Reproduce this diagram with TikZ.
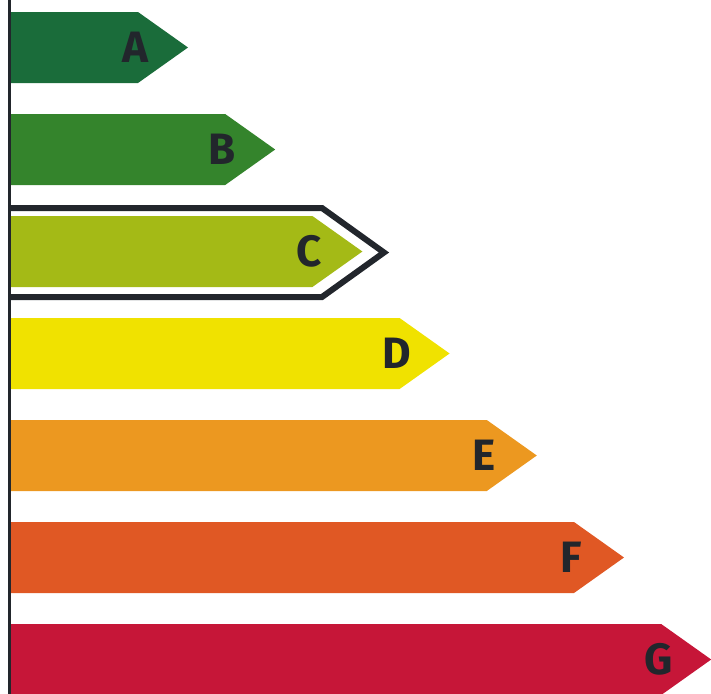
\documentclass[tikz,border=0pt]{standalone}
\usepackage{fontspec}
\setsansfont{Fira Sans}
\definecolor{clsA}{RGB}{26,108,58}
\definecolor{clsB}{RGB}{52,132,44}
\definecolor{clsC}{RGB}{164,186,22}
\definecolor{clsD}{RGB}{240,226,0}
\definecolor{clsE}{RGB}{236,152,32}
\definecolor{clsF}{RGB}{224,88,36}
\definecolor{clsG}{RGB}{198,22,56}
\definecolor{ink}{RGB}{34,38,44}

\begin{document}
\begin{tikzpicture}[x=0.02cm,y=-0.02cm,line join=miter,
  classlabel/.style={font=\sffamily\bfseries\fontsize{25}{25}\selectfont,text=ink,inner sep=0pt},
  markframe/.style={draw=ink,line width=0.12cm}]
  \useasboundingbox (0,0) rectangle (711,694);
  % rating bars
  \foreach \c/\col [count=\i from 0] in {A/clsA,B/clsB,C/clsC,D/clsD,E/clsE,F/clsF,G/clsG} {
    \pgfmathsetmacro{\yt}{12+102*\i}
    \pgfmathsetmacro{\yb}{\yt+71}
    \pgfmathsetmacro{\ym}{\yt+35.5}
    \pgfmathsetmacro{\xt}{188+87.2*\i}
    \pgfmathsetmacro{\xe}{\xt-50}
    \fill[\col] (11,\yt) -- (\xe,\yt) -- (\xt,\ym) -- (\xe,\yb) -- (11,\yb) -- cycle;
    \node[classlabel] (lbl\c) at (\xt-53,\ym) {\c};
  }
  % frame round the chosen class
  \draw[markframe] (10,208) -- (322,208) -- (384,252.5) -- (322,297) -- (10,297);
  % axis
  \draw[line width=0.05cm,ink] (9.5,0) -- (9.5,694);
\end{tikzpicture}
\end{document}
